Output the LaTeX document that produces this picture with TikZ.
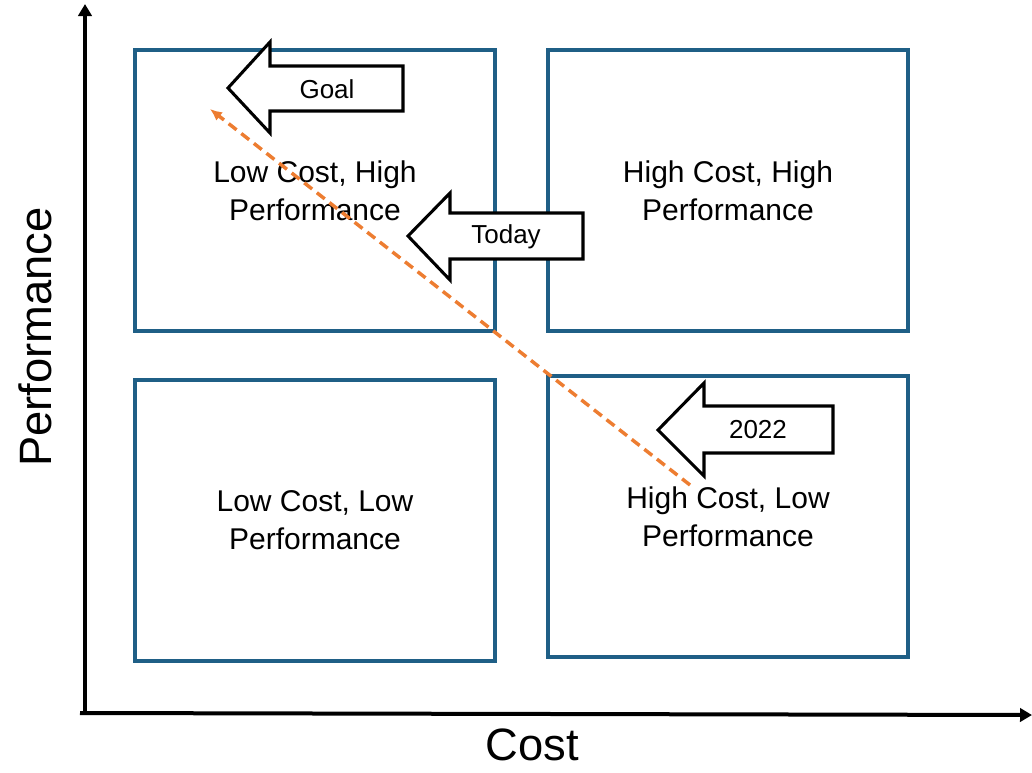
\documentclass[tikz,border=0pt]{standalone}
\usepackage{fontspec}
\setmainfont{Liberation Sans}
\usetikzlibrary{arrows.meta}
\definecolor{QuadBlue}{HTML}{1F5F86}
\definecolor{TrendOrange}{HTML}{ED7D31}
\tikzset{
  quad/.style={
    draw=QuadBlue,
    line width=2.3pt,
    minimum width=270pt,
    minimum height=210.75pt,
    align=center,
    font=\fontsize{22.5}{28.5}\selectfont
  },
  axis/.style={line width=3pt,-{Triangle[length=9pt,width=10pt]}},
  axislabel/.style={font=\fontsize{34}{40}\selectfont,inner sep=0pt},
  blockarrow/.style={draw=black,fill=white,line width=2.3pt,line join=miter},
  arrowlabel/.style={font=\fontsize{19.5}{23}\selectfont},
  trend/.style={
    draw=TrendOrange,
    line width=2.6pt,
    dash pattern=on 7.5pt off 4.5pt,
    -{Latex[length=9pt,width=8pt]}
  }
}
\begin{document}
\begin{tikzpicture}[x=0.75pt,y=-0.75pt]
    \useasboundingbox (0,0) rectangle (1032,772);
    % quadrants
    \node[quad] (lowhigh) at (315,190.5) {Low Cost, High\\Performance};
    \node[quad] (highhigh) at (728,190.5) {High Cost, High\\Performance};
    \node[quad] (lowlow) at (315,520.5) {Low Cost, Low\\Performance};
    \node[quad] (highlow) at (728,516.5) {High Cost, Low\\Performance};
    % axes
    \coordinate (origin) at (85,713);
    \coordinate (xstart) at (80,713);
    \coordinate (ytop) at (85,4);
    \coordinate (xend) at (1032,715);
    \draw[axis] (origin) -- (ytop);
    \draw[axis] (xstart) -- (xend);
    \node[axislabel] (costlbl) at (532,745) {Cost};
    \node[axislabel,rotate=90] (perflbl) at (35,337) {Performance};
    % trend line
    \coordinate (trendstart) at (690,485);
    \coordinate (trendend) at (210,109);
    \draw[trend] (trendstart) -- (trendend);
    % block arrows
    \coordinate (goaltip) at (228,88);
    \draw[blockarrow] (goaltip) -- ++(42,-46) -- ++(0,24) -- ++(133,0)
      -- ++(0,45) -- ++(-133,0) -- ++(0,22) -- cycle;
    \node[arrowlabel] (goal) at (327,89) {Goal};
    \coordinate (todaytip) at (408,236);
    \draw[blockarrow] (todaytip) -- ++(42,-43) -- ++(0,20) -- ++(133,0)
      -- ++(0,46) -- ++(-133,0) -- ++(0,21) -- cycle;
    \node[arrowlabel] (today) at (506,237) {Today};
    \coordinate (pasttip) at (658,430);
    \draw[blockarrow] (pasttip) -- ++(46,-47) -- ++(0,23) -- ++(129,0)
      -- ++(0,47) -- ++(-129,0) -- ++(0,23) -- cycle;
    \node[arrowlabel] (past) at (758,430) {2022};
\end{tikzpicture}
\end{document}
